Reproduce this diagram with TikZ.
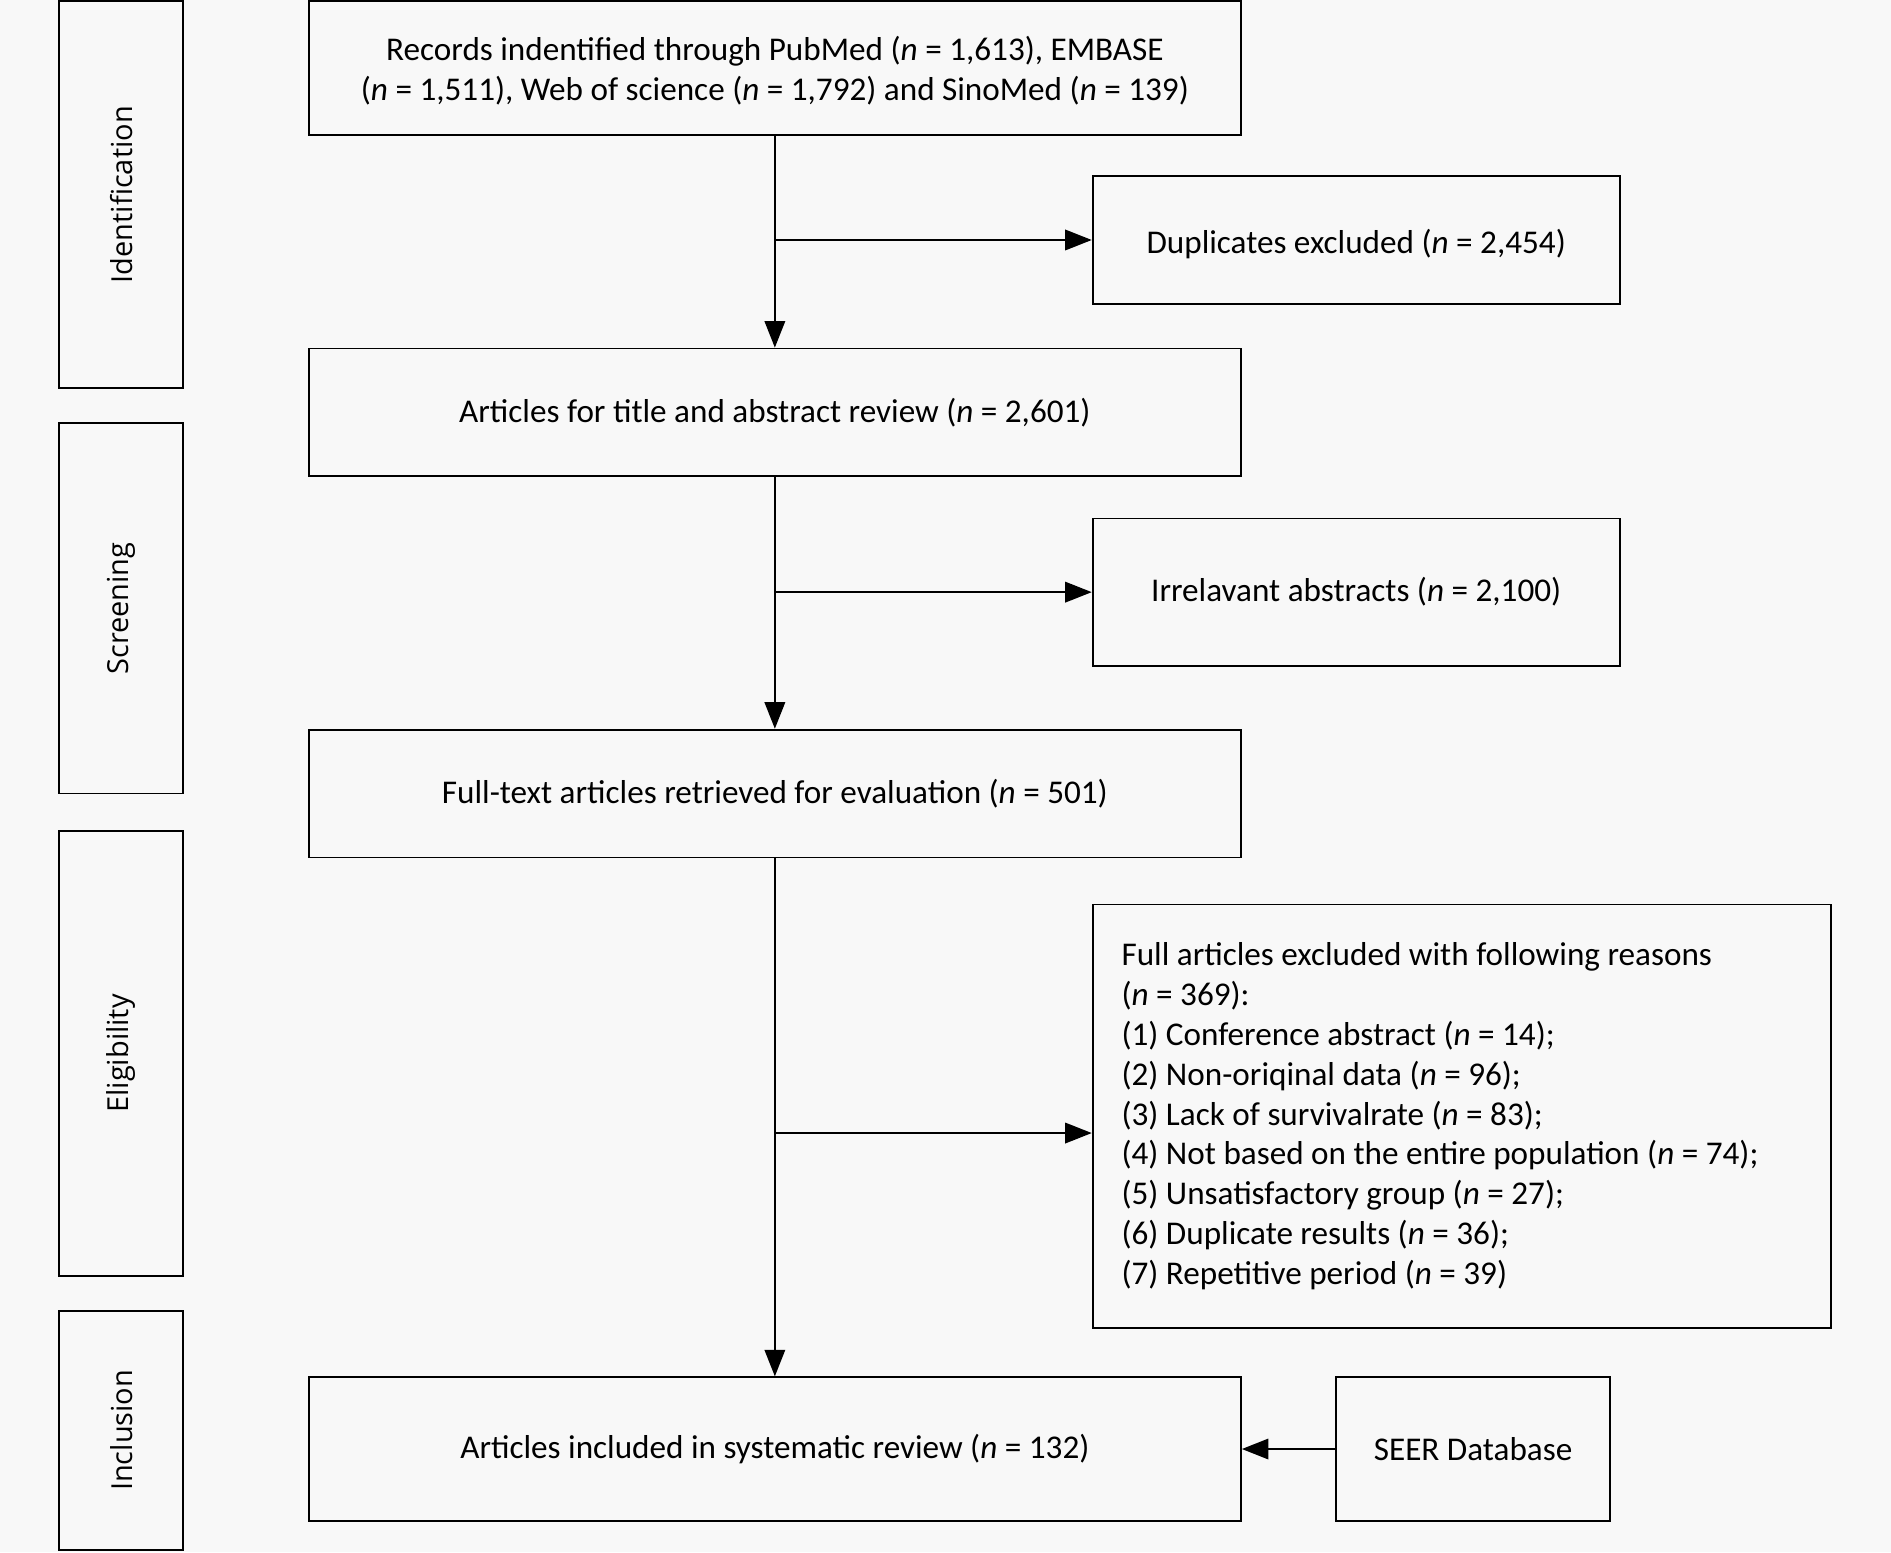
\documentclass[tikz,border=0pt]{standalone}
\usepackage{fontspec}
\setmainfont{Carlito}
\newfontfamily\sidefont{Open Sans}
\usetikzlibrary{arrows.meta}
\definecolor{bgc}{RGB}{248,248,248}
\begin{document}
\begin{tikzpicture}[x=1pt,y=1pt,
  box/.style={draw=black,line width=1.5pt,inner sep=0pt,align=center,font=\fontsize{27.5}{33}\selectfont},
  side/.style={draw=black,line width=1.5pt,minimum width=103pt,inner sep=0pt},
  sidelabel/.style={rotate=90,font=\sidefont\fontsize{24}{28}\selectfont},
  arr/.style={line width=1.5pt,-{Triangle[length=22pt,width=17pt]}},
  ln/.style={line width=1.5pt}]
\fill[bgc] (0,0) rectangle (1568,-1287);
\useasboundingbox (0,0) rectangle (1568,-1287);
% side boxes
\node[side,minimum height=321pt] (sid) at (100.5,-161.5) {};
\node[sidelabel] (sidt) at (sid.center) {Identification};
\node[side,minimum height=307pt] (sscr) at (100.5,-504.5) {};
\node[sidelabel] (sscrt) at (sscr.center) {Screening};
\node[side,minimum height=369pt] (selg) at (100.5,-873.5) {};
\node[sidelabel] (selgt) at (selg.center) {Eligibility};
\node[side,minimum height=198pt] (sinc) at (100.5,-1186) {};
\node[sidelabel] (sinct) at (sinc.center) {Inclusion};
% main boxes
\node[box,minimum width=773pt,minimum height=111pt,inner ysep=0pt,text depth=0pt] (rec) at (642.5,-56.5)
  {\rule{0pt}{5pt}Records indentified through PubMed (\textit{n} = 1,613), EMBASE\\(\textit{n} = 1,511), Web of science (\textit{n} = 1,792) and SinoMed (\textit{n} = 139)};
\node[box,minimum width=773pt,minimum height=106pt] (art) at (642.5,-342)
  {Articles for title and abstract review (\textit{n} = 2,601)};
\node[box,minimum width=773pt,minimum height=106pt] (ft) at (642.5,-658)
  {Full-text articles retrieved for evaluation (\textit{n} = 501)};
\node[box,minimum width=773pt,minimum height=119pt] (inc) at (642.5,-1201.5)
  {Articles included in systematic review (\textit{n} = 132)};
% right boxes
\node[box,minimum width=437pt,minimum height=106pt,text height=30pt,text depth=7pt] (dup) at (1124.5,-199)
  {Duplicates excluded (\textit{n} = 2,454)};
\node[box,minimum width=437pt,minimum height=122pt] (irr) at (1124.5,-491)
  {Irrelavant abstracts (\textit{n} = 2,100)};
\node[box,minimum width=612pt,minimum height=351pt,text width=564pt,inner xsep=24pt,align=flush left] (exc) at (1212,-925.5)
  {Full articles excluded with following reasons\\
   (\textit{n} = 369):\\
   (1) Conference abstract (\textit{n} = 14);\\
   (2) Non-oriqinal data (\textit{n} = 96);\\
   (3) Lack of survivalrate (\textit{n} = 83);\\
   (4) Not based on the entire population (\textit{n} = 74);\\
   (5) Unsatisfactory group (\textit{n} = 27);\\
   (6) Duplicate results (\textit{n} = 36);\\
   (7) Repetitive period (\textit{n} = 39)};
\node[box,minimum width=227pt,minimum height=119pt] (seer) at (1221.5,-1201.5)
  {SEER Database};
% connectors
\draw[arr] (rec.south) -- (art.north);
\draw[arr] (rec.south |- dup.west) -- (dup.west);
\draw[arr] (art.south) -- (ft.north);
\draw[arr] (art.south |- irr.west) -- (irr.west);
\draw[arr] (ft.south) -- (inc.north);
\coordinate (exin) at ([yshift=-14pt]exc.west);
\draw[arr] (ft.south |- exin) -- (exin);
\draw[arr] (seer.west) -- (inc.east);
\end{tikzpicture}
\end{document}
